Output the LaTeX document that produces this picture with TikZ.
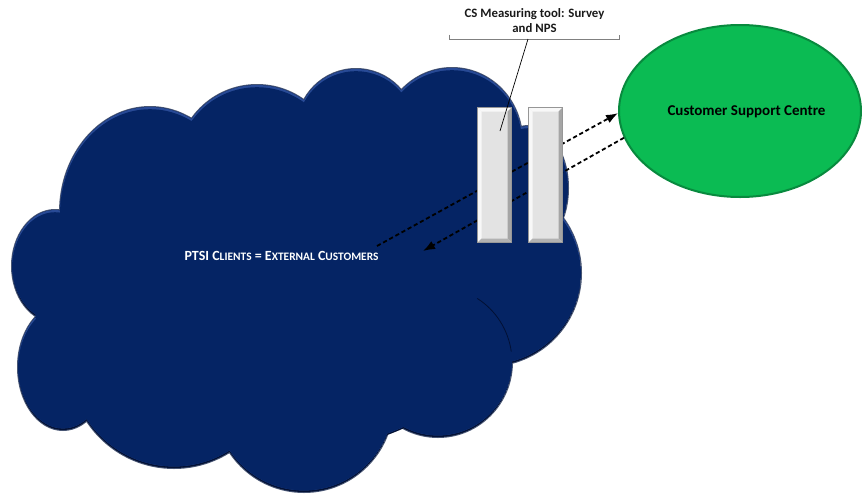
\documentclass[tikz,border=0pt]{standalone}
\usepackage{fontspec}
\setmainfont{Carlito}
\usetikzlibrary{arrows.meta,shapes.geometric}

\definecolor{cloudbase}{RGB}{5,36,100}
\definecolor{cloudlight}{RGB}{40,74,150}
\definecolor{clouddark}{RGB}{2,16,52}
\definecolor{cloudedge}{RGB}{72,86,116}
\definecolor{cscgreen}{RGB}{11,187,83}
\definecolor{cscedge}{RGB}{8,138,62}
\definecolor{barface}{RGB}{227,227,227}
\definecolor{barrim}{RGB}{150,150,150}
\definecolor{barhi}{RGB}{248,248,248}
\definecolor{barlo}{RGB}{165,165,165}
\definecolor{barlow}{RGB}{178,178,178}

% small capitals built from reduced upper-case letters
\newcommand\smc[1]{{\fontsize{11.4}{13}\selectfont #1}}

% bevelled bar: x1 y1 x2 y2 (y grows downwards)
\newcommand\bevelbar[4]{%
  \fill[barrim] (#1,#2) rectangle (#3,#4);
  \fill[barface] (#1+1,#2+1) rectangle (#3-1,#4-1);
  \fill[barhi] (#1+1,#2+1) -- (#3-1,#2+1) -- (#3-4.5,#2+4.5) -- (#1+4.5,#2+4.5) -- cycle;
  \fill[barhi] (#1+1,#2+1) -- (#1+4.5,#2+4.5) -- (#1+4.5,#4-4.5) -- (#1+1,#4-1) -- cycle;
  \fill[barlo] (#3-1,#2+1) -- (#3-1,#4-1) -- (#3-4.5,#4-4.5) -- (#3-4.5,#2+4.5) -- cycle;
  \fill[barlow] (#1+1,#4-1) -- (#3-1,#4-1) -- (#3-4.5,#4-4.5) -- (#1+4.5,#4-4.5) -- cycle;
}

\tikzset{
  cloudshape/.style={insert path={
    (55,266) ellipse [x radius=43, y radius=56]
    (150,212) ellipse [x radius=90, y radius=105]
    (257,165) circle [radius=80]
    (356,128) circle [radius=59]
    (452,140) ellipse [x radius=70, y radius=72]
    (528,188) ellipse [x radius=40, y radius=62]
    (488,273) circle [radius=93]
    (438,362) ellipse [x radius=74, y radius=75]
    (304,403) circle [radius=89]
    (174,364) circle [radius=104]
    (63,367) ellipse [x radius=45, y radius=63]
  }},
  cloudcore/.style={insert path={
    (300,280) ellipse [x radius=230, y radius=130]
    (300,300) ellipse [x radius=200, y radius=150]
  }},
  dasharrow/.style={draw=black, line width=1.8pt, dash pattern=on 4.2pt off 2.8pt,
    -{Latex[length=12pt,width=9pt]}},
  leader/.style={draw=black, line width=0.7pt},
  bracket/.style={draw=black!50, line width=0.9pt},
  labeltext/.style={font=\bfseries\fontsize{12.8}{15}\selectfont, align=center, text=black!90},
}

\begin{document}
\begin{tikzpicture}[x=1pt,y=-1pt]
\useasboundingbox (0,0) rectangle (862,493);

% cloud: thin outer edge, then bevelled fill
\draw[cloudedge, line width=2pt, cloudshape];
\begin{scope}
  \clip[cloudshape, cloudcore];
  \fill[clouddark, cloudshape, cloudcore];
  \fill[cloudlight, shift={(0,-1.6)}, cloudshape, cloudcore];
  \clip[shift={(0,-1.6)}, cloudshape, cloudcore];
  \fill[cloudbase, shift={(0,2.2)}, cloudshape, cloudcore];
\end{scope}
\draw[clouddark, line width=0.8pt] (477.2,298.4) arc[start angle=-58, end angle=-8, x radius=74, y radius=75];

\node[font=\bfseries\fontsize{14}{16}\selectfont, text=white] (cloudtxt) at (281.5,256)
  {PTSI C\smc{LIENTS} = E\smc{XTERNAL} C\smc{USTOMERS}};

% customer support centre
\node[ellipse, fill=cscgreen, draw=cscedge, line width=2pt, minimum width=242, minimum height=172,
  inner sep=0] (csc) at (740,111) {};
\node[font=\bfseries\fontsize{15}{17}\selectfont] (csctxt) at (746.5,112) {Customer Support Centre};

% dashed exchanges
\coordinate (a1) at (377,246);
\coordinate (a2) at (423,251);
\draw[dasharrow] (a1) -- (csc.181);
\draw[dasharrow] (csc.193) -- (a2);

% measuring tool bars
\bevelbar{477}{107}{512}{243}
\bevelbar{528}{107}{563}{243}

% callout
\node[labeltext] (cslabel) at (534.5,21) {CS Measuring tool: Survey\\and NPS};
\draw[bracket] (449,34.5) -- (449,39) -- (619,39) -- (619,34.5);
\coordinate (brkmid) at (528,39);
\coordinate (bartip) at (500,131);
\draw[leader] (brkmid) -- (bartip);
\end{tikzpicture}
\end{document}
